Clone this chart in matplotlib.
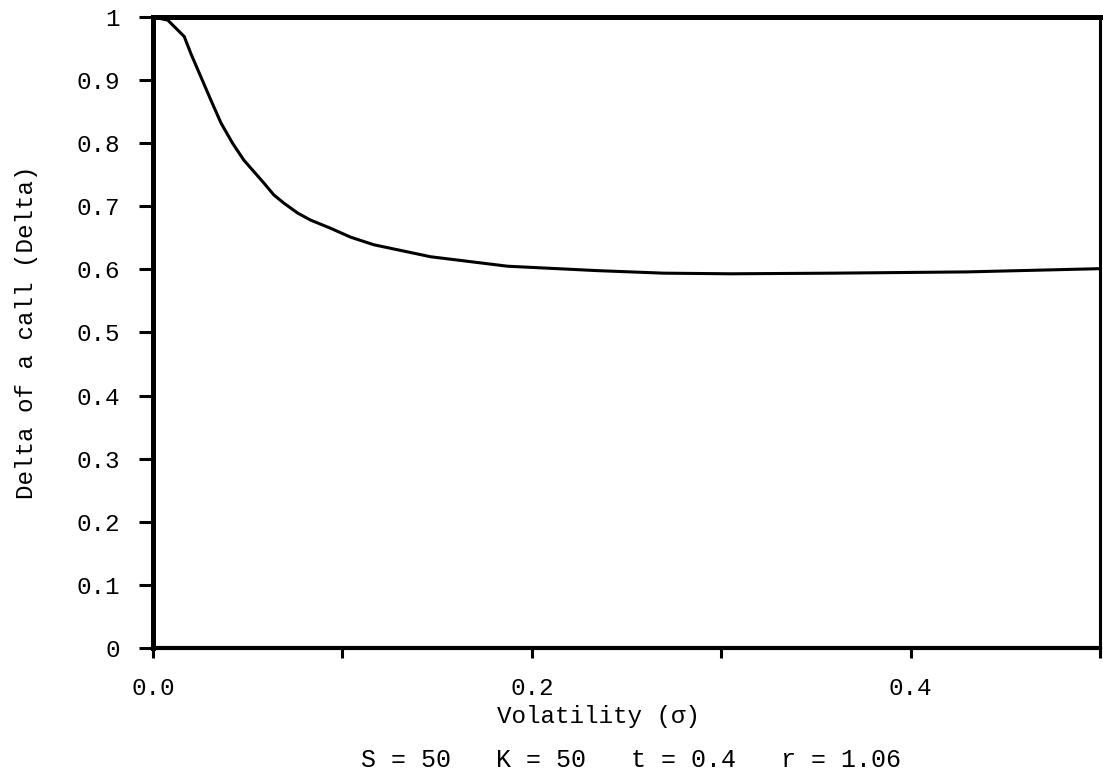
import numpy as np
import matplotlib.pyplot as plt

# values
sigma = [0.0, 0.0078, 0.0165, 0.0200, 0.0253, 0.0306, 0.0359, 0.0420, 0.0480,
         0.0585, 0.0638, 0.0691, 0.0765, 0.0833, 0.0939, 0.1044, 0.1166, 0.1466,
         0.1872, 0.2347, 0.2695, 0.3049, 0.3592, 0.4298, 0.4984, 0.5]
delta = [1.0, 0.995, 0.969, 0.942, 0.905, 0.868, 0.832, 0.800, 0.773,
         0.737, 0.718, 0.705, 0.689, 0.678, 0.665, 0.651, 0.639, 0.620,
         0.605, 0.598, 0.594, 0.593, 0.594, 0.596, 0.601, 0.601]
ytick_vals = [0, 0.1, 0.2, 0.3, 0.4, 0.5, 0.6, 0.7, 0.8, 0.9, 1]
ytick_labels = ['0', '0.1', '0.2', '0.3', '0.4', '0.5', '0.6', '0.7', '0.8', '0.9', '1']
xtick_vals = [0.0, 0.1, 0.2, 0.3, 0.4, 0.5]
xtick_labels = ['0.0', '', '0.2', '', '0.4', '']
note = 'S = 50   K = 50   t = 0.4   r = 1.06'

mono = 'Liberation Mono'

fig = plt.figure(figsize=(11.03, 7.75), dpi=100)
ax = fig.add_axes([0.1387, 0.1639, 0.8586, 0.8142])

ax.plot(sigma, delta, color='black', lw=2.2, solid_joinstyle='round')
ax.set_xlim(0, 0.5)
ax.set_ylim(0, 1)

ax.set_yticks(ytick_vals)
ax.set_yticklabels(ytick_labels, family=mono, fontsize=17.5)
ax.set_xticks(xtick_vals)
ax.set_xticklabels(xtick_labels, family=mono, fontsize=17.5)

ax.tick_params(axis='y', direction='out', length=10, width=2.2, pad=14)
ax.tick_params(axis='x', direction='out', length=7, width=2.2, pad=14)

ax.spines['left'].set_linewidth(3.6)
ax.spines['top'].set_linewidth(3.6)
ax.spines['bottom'].set_linewidth(3.0)
ax.spines['right'].set_linewidth(2.2)

ax.set_ylabel('Delta of a call (Delta)', family=mono, fontsize=17.5, va='center')
ax.yaxis.set_label_coords(-0.134, 0.5)
ax.set_xlabel('Volatility (σ)', family=mono, fontsize=17.5, va='center')
ax.xaxis.set_label_coords(0.470, -0.109)
fig.text(0.572, 0.019, note, family=mono, fontsize=18, ha='center', va='center')

fig.savefig('out.png', dpi=100)
